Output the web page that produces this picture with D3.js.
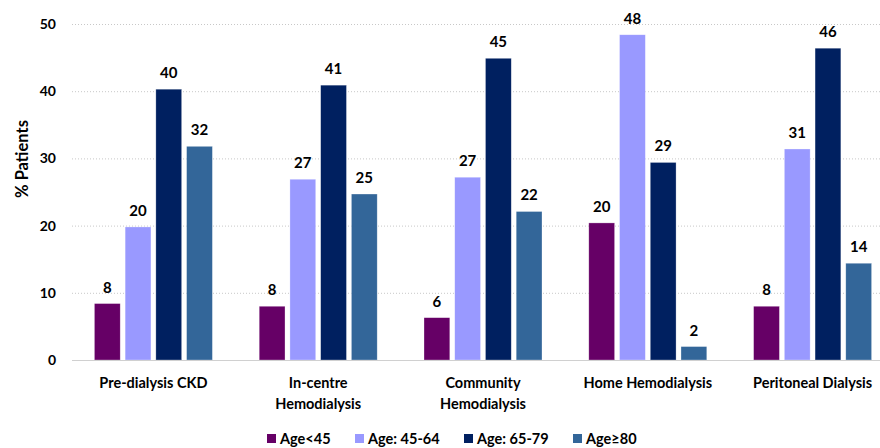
<!doctype html>
<meta charset="utf-8">
<title>Patients by age group</title>
<script src="https://cdn.jsdelivr.net/npm/d3@7"></script>
<style>
  body { margin: 0; background: #fff; }
  text { font-family: Lato, "Open Sans", sans-serif; font-weight: bold; fill: #000; }
</style>
<body>
<script>
var categories = [["Pre-dialysis CKD"], ["In-centre", "Hemodialysis"], ["Community", "Hemodialysis"], ["Home Hemodialysis"], ["Peritoneal Dialysis"]];
var seriesNames = ["Age<45", "Age: 45-64", "Age: 65-79", "Age\u226580"];
var age45 = [8.4, 8.0, 6.3, 20.4, 8.0];
var age45_64 = [19.8, 26.9, 27.2, 48.4, 31.4];
var age65_79 = [40.3, 40.9, 44.9, 29.4, 46.4];
var age80 = [31.8, 24.7, 22.1, 2.0, 14.4];
var yTicks = [0, 10, 20, 30, 40, 50];
var colors = ["#660066", "#9999ff", "#002060", "#336699"];

var series = [age45, age45_64, age65_79, age80];
var width = 880, height = 448;

var svg = d3.select('body').append('svg')
  .attr('width', width)
  .attr('height', height);

var x = d3.scaleBand()
  .domain(d3.range(categories.length))
  .range([71, 895]);

var xi = d3.scaleBand()
  .domain(d3.range(series.length))
  .range([0, 118])
  .paddingInner(0.16);

var y = d3.scaleLinear()
  .domain([0, 50])
  .range([360, 24]);

// gridlines
svg.append('g').selectAll('line')
  .data(yTicks.slice(1))
  .enter().append('line')
  .attr('x1', 72).attr('x2', 880)
  .attr('y1', function(d) { return y(d) + 0.5 })
  .attr('y2', function(d) { return y(d) + 0.5 })
  .attr('stroke', '#c8c8c8')
  .attr('stroke-dasharray', '1,2');

// y axis labels
var yAxis = svg.append('g')
  .attr('transform', 'translate(62,0)')
  .call(d3.axisLeft(y).tickValues(yTicks).tickSize(0).tickPadding(6));
yAxis.select('.domain').remove();
yAxis.selectAll('text')
  .style('font-size', '14px')
  .style('font-family', 'Lato, "Open Sans", sans-serif')
  .style('font-weight', 'bold')
  .attr('fill', '#000');

svg.append('text')
  .attr('transform', 'translate(28,159) rotate(-90)')
  .attr('text-anchor', 'middle')
  .style('font-size', '16.5px')
  .text('% Patients');

// bars
var groups = svg.append('g').selectAll('g')
  .data(categories)
  .enter().append('g')
  .attr('transform', function(d, i) { return 'translate(' + (x(i) + (x.bandwidth() - 118) / 2) + ',0)' });

groups.selectAll('rect')
  .data(function(d, i) { return series.map(function(s, j) { return { s: j, v: s[i] } }) })
  .enter().append('rect')
  .attr('x', function(d) { return xi(d.s) })
  .attr('width', xi.bandwidth())
  .attr('y', function(d) { return y(d.v) })
  .attr('height', function(d) { return y(0) - y(d.v) })
  .attr('fill', function(d) { return colors[d.s] })
  .attr('stroke', '#ffffff')
  .attr('stroke-opacity', 0.5)
  .attr('stroke-width', 0.6);

groups.selectAll('text.val')
  .data(function(d, i) { return series.map(function(s, j) { return { s: j, v: s[i] } }) })
  .enter().append('text')
  .attr('class', 'val')
  .attr('x', function(d) { return xi(d.s) + xi.bandwidth() / 2 })
  .attr('y', function(d) { return y(d.v) - 11 })
  .attr('text-anchor', 'middle')
  .style('font-size', '15px')
  .text(function(d) { return Math.round(d.v) });

// baseline
svg.append('line')
  .attr('x1', 72).attr('x2', 880)
  .attr('y1', y(0) + 0.5).attr('y2', y(0) + 0.5)
  .attr('stroke', '#d0d0d0')
  .attr('stroke-width', 1.2);

// category labels
var cat = svg.append('g').selectAll('text')
  .data(categories)
  .enter().append('text')
  .attr('x', function(d, i) { return x(i) + x.bandwidth() / 2 })
  .attr('y', 388)
  .attr('text-anchor', 'middle')
  .style('font-size', '14.5px');
cat.selectAll('tspan')
  .data(function(d) { return d })
  .enter().append('tspan')
  .attr('x', function() { return this.parentNode.getAttribute('x') })
  .attr('dy', function(d, i) { return i ? 21 : 0 })
  .text(function(d) { return d });

// legend
var legendX = [267, 355, 464, 573];
var legend = svg.append('g').selectAll('g')
  .data(seriesNames)
  .enter().append('g')
  .attr('transform', function(d, i) { return 'translate(' + legendX[i] + ',434)' });
legend.append('rect')
  .attr('width', 9).attr('height', 9)
  .attr('fill', function(d, i) { return colors[i] });
legend.append('text')
  .attr('x', 13).attr('y', 9.5)
  .style('font-size', '14.5px')
  .text(function(d) { return d });
</script>
</body>
